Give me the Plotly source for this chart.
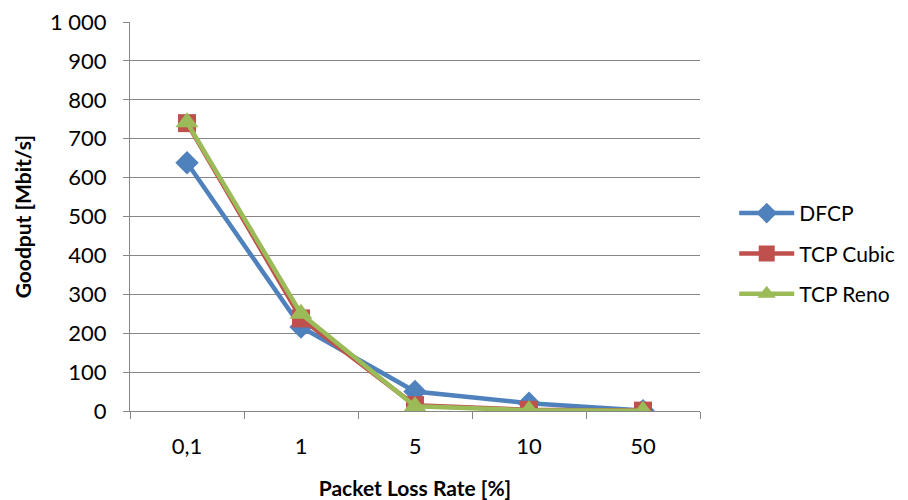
import plotly.graph_objects as go

categories = ["0,1", "1", "5", "10", "50"]
dfcp = [638, 216, 50, 20, 1]
tcp_cubic = [740, 238, 15, 3, 1]
tcp_reno = [742, 250, 12, 2, 0.5]
y_ticks = [0, 100, 200, 300, 400, 500, 600, 700, 800, 900, 1000]
y_tick_labels = ["0", "100", "200", "300", "400", "500", "600", "700", "800", "900", "1 000"]

FONT = "Lato, Open Sans, sans-serif"
fig = go.Figure()
series = [
    ("DFCP", dfcp, "#4F81BD", "diamond", 18),
    ("TCP Cubic", tcp_cubic, "#C0504D", "square", 18),
    ("TCP Reno", tcp_reno, "#9BBB59", "triangle-up", 20),
]
for name, vals, color, sym, size in series:
    fig.add_trace(go.Scatter(
        x=categories, y=vals, name=name, mode="lines+markers", legendgroup=name,
        line=dict(color=color, width=4.5),
        marker=dict(symbol=sym, size=size, color=color, line=dict(width=0)),
    ))

fig.update_layout(
    width=908, height=500,
    margin=dict(l=130, r=208, t=22, b=89, autoexpand=False),
    plot_bgcolor="white", paper_bgcolor="white",
    font=dict(family=FONT, size=21, color="black"),
    showlegend=True,
    legend=dict(x=1.06, y=0.405, xanchor="left", yanchor="middle",
                font=dict(size=21), itemwidth=55, tracegroupgap=10,
                bgcolor="rgba(0,0,0,0)"),
    xaxis=dict(
        type="category", range=[-0.5, 4.5], automargin=False,
        showline=True, linecolor="#868686", linewidth=1,
        ticks="outside", tickson="boundaries", ticklen=7, tickcolor="#868686",
        showgrid=False, tickfont=dict(size=22), ticklabelstandoff=16,
        title=dict(text="<b>Packet Loss Rate [%]</b>", font=dict(size=21), standoff=22),
    ),
    yaxis=dict(
        range=[0, 1000], tickvals=y_ticks, ticktext=y_tick_labels, automargin=False,
        showline=True, linecolor="#868686", linewidth=1,
        ticks="outside", ticklen=6, tickcolor="#868686",
        showgrid=True, gridcolor="#868686", gridwidth=1,
        zeroline=False, tickfont=dict(size=22), ticklabelstandoff=12,
    ),
    annotations=[dict(
        text="<b>Goodput [Mbit/s]</b>", textangle=-90, showarrow=False,
        xref="paper", yref="paper", x=-0.188, y=0.5,
        xanchor="center", yanchor="middle", font=dict(size=21),
    )],
)
fig.write_html("out.html")
